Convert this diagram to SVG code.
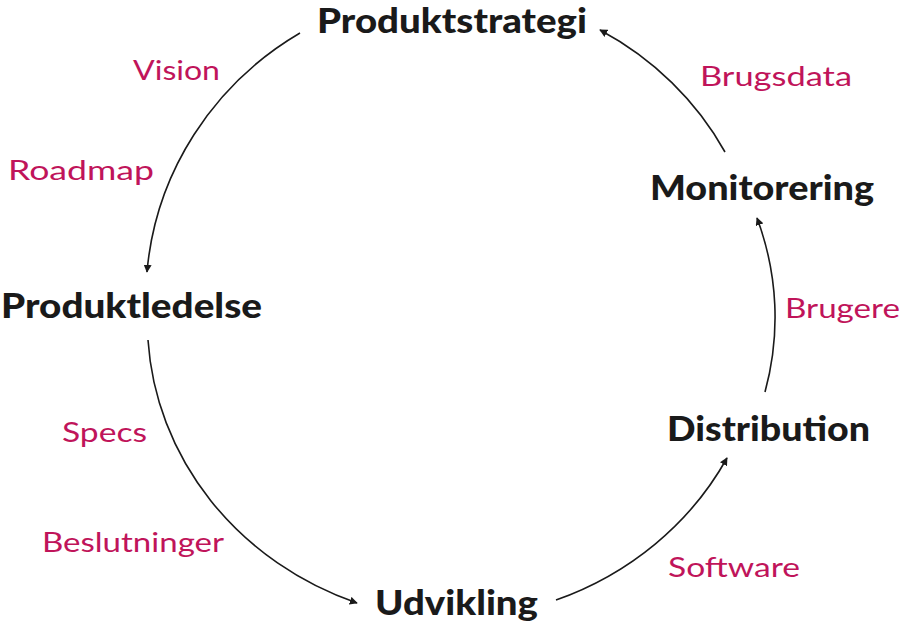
<svg xmlns="http://www.w3.org/2000/svg" width="900" height="627" viewBox="0 0 900 627">
<style>
.n{font-family:Lato,"Liberation Sans",sans-serif;font-weight:900;font-size:34px;fill:#1a1a1a}
.l{font-family:Lato,"Liberation Sans",sans-serif;font-size:27px;fill:#c0145a}
.c{fill:none;stroke:#1a1a1a;stroke-width:1.6;marker-end:url(#a)}
</style>
<defs><marker id="a" viewBox="0 0 10 10" refX="9" refY="5" markerWidth="8" markerHeight="8" orient="auto" markerUnits="userSpaceOnUse"><path d="M0,0L10,5L0,10z" fill="#1a1a1a"/></marker></defs>
<rect width="900" height="627" fill="#fff"/>
<g id="connectors">
<path class="c" d="M300,33 A320,310 0 0 0 147,272"/>
<path class="c" d="M148,340 A320,300 0 0 0 357,603"/>
<path class="c" d="M556,600 A320,300 0 0 0 727,458"/>
<path class="c" d="M765,392 A320,300 0 0 0 757,218"/>
<path class="c" d="M725,152 A320,300 0 0 0 600,30"/>
</g>
<g id="produktstrategi"><text class="n" x="317" y="33" textLength="270" lengthAdjust="spacingAndGlyphs">Produktstrategi</text></g>
<g id="produktledelse"><text class="n" x="1" y="318" textLength="261" lengthAdjust="spacingAndGlyphs">Produktledelse</text></g>
<g id="udvikling"><text class="n" x="375" y="615" textLength="163" lengthAdjust="spacingAndGlyphs">Udvikling</text></g>
<g id="distribution"><text class="n" x="667" y="441" textLength="203" lengthAdjust="spacingAndGlyphs">Distribution</text></g>
<g id="monitorering"><text class="n" x="650" y="200" textLength="224" lengthAdjust="spacingAndGlyphs">Monitorering</text></g>
<g id="labels">
<text class="l" x="133" y="80" textLength="87" lengthAdjust="spacingAndGlyphs">Vision</text>
<text class="l" x="8" y="180" textLength="146" lengthAdjust="spacingAndGlyphs">Roadmap</text>
<text class="l" x="62" y="442" textLength="85" lengthAdjust="spacingAndGlyphs">Specs</text>
<text class="l" x="42" y="552" textLength="182" lengthAdjust="spacingAndGlyphs">Beslutninger</text>
<text class="l" x="668" y="577" textLength="132" lengthAdjust="spacingAndGlyphs">Software</text>
<text class="l" x="785" y="318" textLength="115" lengthAdjust="spacingAndGlyphs">Brugere</text>
<text class="l" x="700" y="86" textLength="152" lengthAdjust="spacingAndGlyphs">Brugsdata</text>
</g>
</svg>
